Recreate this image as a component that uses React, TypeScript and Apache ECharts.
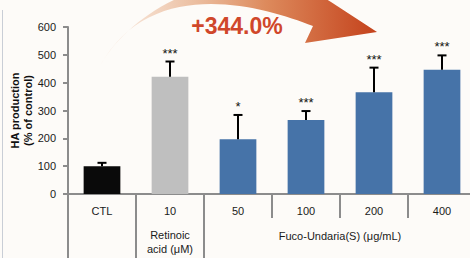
import React, { useEffect, useRef } from "react";
import * as echarts from "echarts";

const categories = ["CTL", "10", "50", "100", "200", "400"];
const means = [100, 421, 197, 266, 366, 446];
const errors = [12, 55, 87, 32, 88, 52];
const significance = ["", "***", "*", "***", "***", "***"];
const barColors = ["#0a0a0a", "#bfbfbf", "#4673a8", "#4673a8", "#4673a8", "#4673a8"];
const yMin = 0;
const yMax = 600;
const yInterval = 100;
const groupLabel = "Fuco-Undaria(S) (μg/mL)";
const retinoicLabel = ["Retinoic", "acid (μM)"];
const increaseLabel = "+344.0%";

const ARROW_D =
  "M 100 66 C 125 20, 210 -45, 318 -6 L 331 2 L 377 32 L 305 43 L 313 26 C 260 5, 150 -25, 100 66 Z";

let registered = false;

export default function App() {
  const ref = useRef<HTMLDivElement>(null);
  useEffect(() => {
    document.body.style.margin = "0";
    if (!registered) {
      echarts.graphic.registerShape("arrowShape", echarts.graphic.extendPath(ARROW_D, {}) as any);
      registered = true;
    }
    const chart = echarts.init(ref.current!, undefined, { renderer: "svg" });
    const font = "Liberation Sans";
    chart.setOption({
      animation: false,
      backgroundColor: "#fdfbf8",
      grid: { left: 68, right: -6, top: 27, bottom: 64, containLabel: false, outerBoundsMode: "none" },
      xAxis: [
        {
          type: "category",
          data: categories,
          axisLine: { show: true, lineStyle: { color: "#8c8c8c", width: 2 } },
          axisTick: { show: true, length: 24, lineStyle: { color: "#8c8c8c", width: 2 } },
          axisLabel: {
            margin: 0,
            interval: 0,
            formatter: (v: string) =>
              v === "10" ? `{a|${v}}\n{b|${retinoicLabel[0]}}\n{b|${retinoicLabel[1]}}` : `{a|${v}}`,
            rich: {
              a: { fontFamily: font, fontSize: 11, color: "#1a1a1a", lineHeight: 34 },
              b: { fontFamily: font, fontSize: 11, color: "#1a1a1a", lineHeight: 14 },
            },
          },
        },
        {
          type: "category",
          data: categories,
          position: "bottom",
          axisLine: { show: false },
          axisLabel: { show: false },
          axisTick: {
            show: true,
            length: 66,
            interval: (i: number) => i <= 2,
            lineStyle: { color: "#8c8c8c", width: 2 },
          },
        },
      ],
      yAxis: {
        type: "value",
        min: yMin,
        max: yMax,
        interval: yInterval,
        splitLine: { show: false },
        axisLine: { show: true, lineStyle: { color: "#8c8c8c", width: 2 } },
        axisTick: { show: true, length: 5, lineStyle: { color: "#8c8c8c", width: 2 } },
        axisLabel: { margin: 12, fontFamily: font, fontSize: 11, color: "#1a1a1a" },
        name: "HA production\n(% of control)",
        nameLocation: "middle",
        nameGap: 34,
        nameMoveOverlap: false,
        nameTextStyle: { fontFamily: font, fontSize: 11, fontWeight: "bold", color: "#111", lineHeight: 13 },
      },
      series: [
        {
          type: "bar",
          barWidth: "54%",
          data: means.map((m, i) => ({ value: m, itemStyle: { color: barColors[i] } })),
        },
        {
          type: "custom",
          z: 5,
          data: means.map((m, i) => [i, m, errors[i]]),
          renderItem: (params: any, api: any) => {
            const idx = api.value(0);
            const m = api.value(1);
            const e = api.value(2);
            const top = api.coord([idx, m]);
            const cap = api.coord([idx, m + e]);
            const children: any[] = [
              { type: "line", shape: { x1: top[0], y1: top[1], x2: cap[0], y2: cap[1] }, style: { stroke: "#000", lineWidth: 2 } },
              { type: "line", shape: { x1: cap[0] - 4.5, y1: cap[1], x2: cap[0] + 4.5, y2: cap[1] }, style: { stroke: "#000", lineWidth: 2 } },
            ];
            const s = significance[params.dataIndex];
            if (s) {
              children.push({
                type: "text",
                style: {
                  text: s,
                  x: cap[0],
                  y: cap[1] - 2,
                  align: "center",
                  verticalAlign: "bottom",
                  fontFamily: font,
                  fontSize: 13,
                  fill: "#111",
                },
              });
            }
            return { type: "group", children };
          },
        },
      ],
    });
    const x3 = chart.convertToPixel({ xAxisIndex: 0 }, 3) as number;
    const x4 = chart.convertToPixel({ xAxisIndex: 0 }, 4) as number;
    const y0 = chart.convertToPixel({ yAxisIndex: 0 }, 0) as number;
    chart.setOption({
      graphic: [
        { type: "line", shape: { x1: 2.5, y1: 10, x2: 2.5, y2: 258 }, style: { stroke: "#c9ced6", lineWidth: 1 } },
        {
          type: "arrowShape",
          x: 0,
          y: 0,
          scaleX: 1,
          scaleY: 1,
          style: {
            fill: {
              type: "linear",
              x: 0,
              y: 0,
              x2: 1,
              y2: 0,
              colorStops: [
                { offset: 0, color: "rgba(246,222,205,0.5)" },
                { offset: 0.35, color: "#ebbd9f" },
                { offset: 0.6, color: "#dd8a5c" },
                { offset: 1, color: "#c4421c" },
              ],
            },
          },
        },
        {
          type: "text",
          x: 237,
          y: 26,
          style: {
            text: increaseLabel,
            align: "center",
            verticalAlign: "middle",
            fontFamily: font,
            fontWeight: "bold",
            fontSize: 23,
            fill: "#d0472a",
          },
        },
        {
          type: "text",
          x: (x3 + x4) / 2,
          y: y0 + 42,
          style: {
            text: groupLabel,
            align: "center",
            verticalAlign: "middle",
            fontFamily: font,
            fontSize: 11,
            fill: "#1a1a1a",
          },
        },
      ],
    });
    return () => chart.dispose();
  }, []);
  return <div ref={ref} style={{ width: 470, height: 258 }} />;
}
